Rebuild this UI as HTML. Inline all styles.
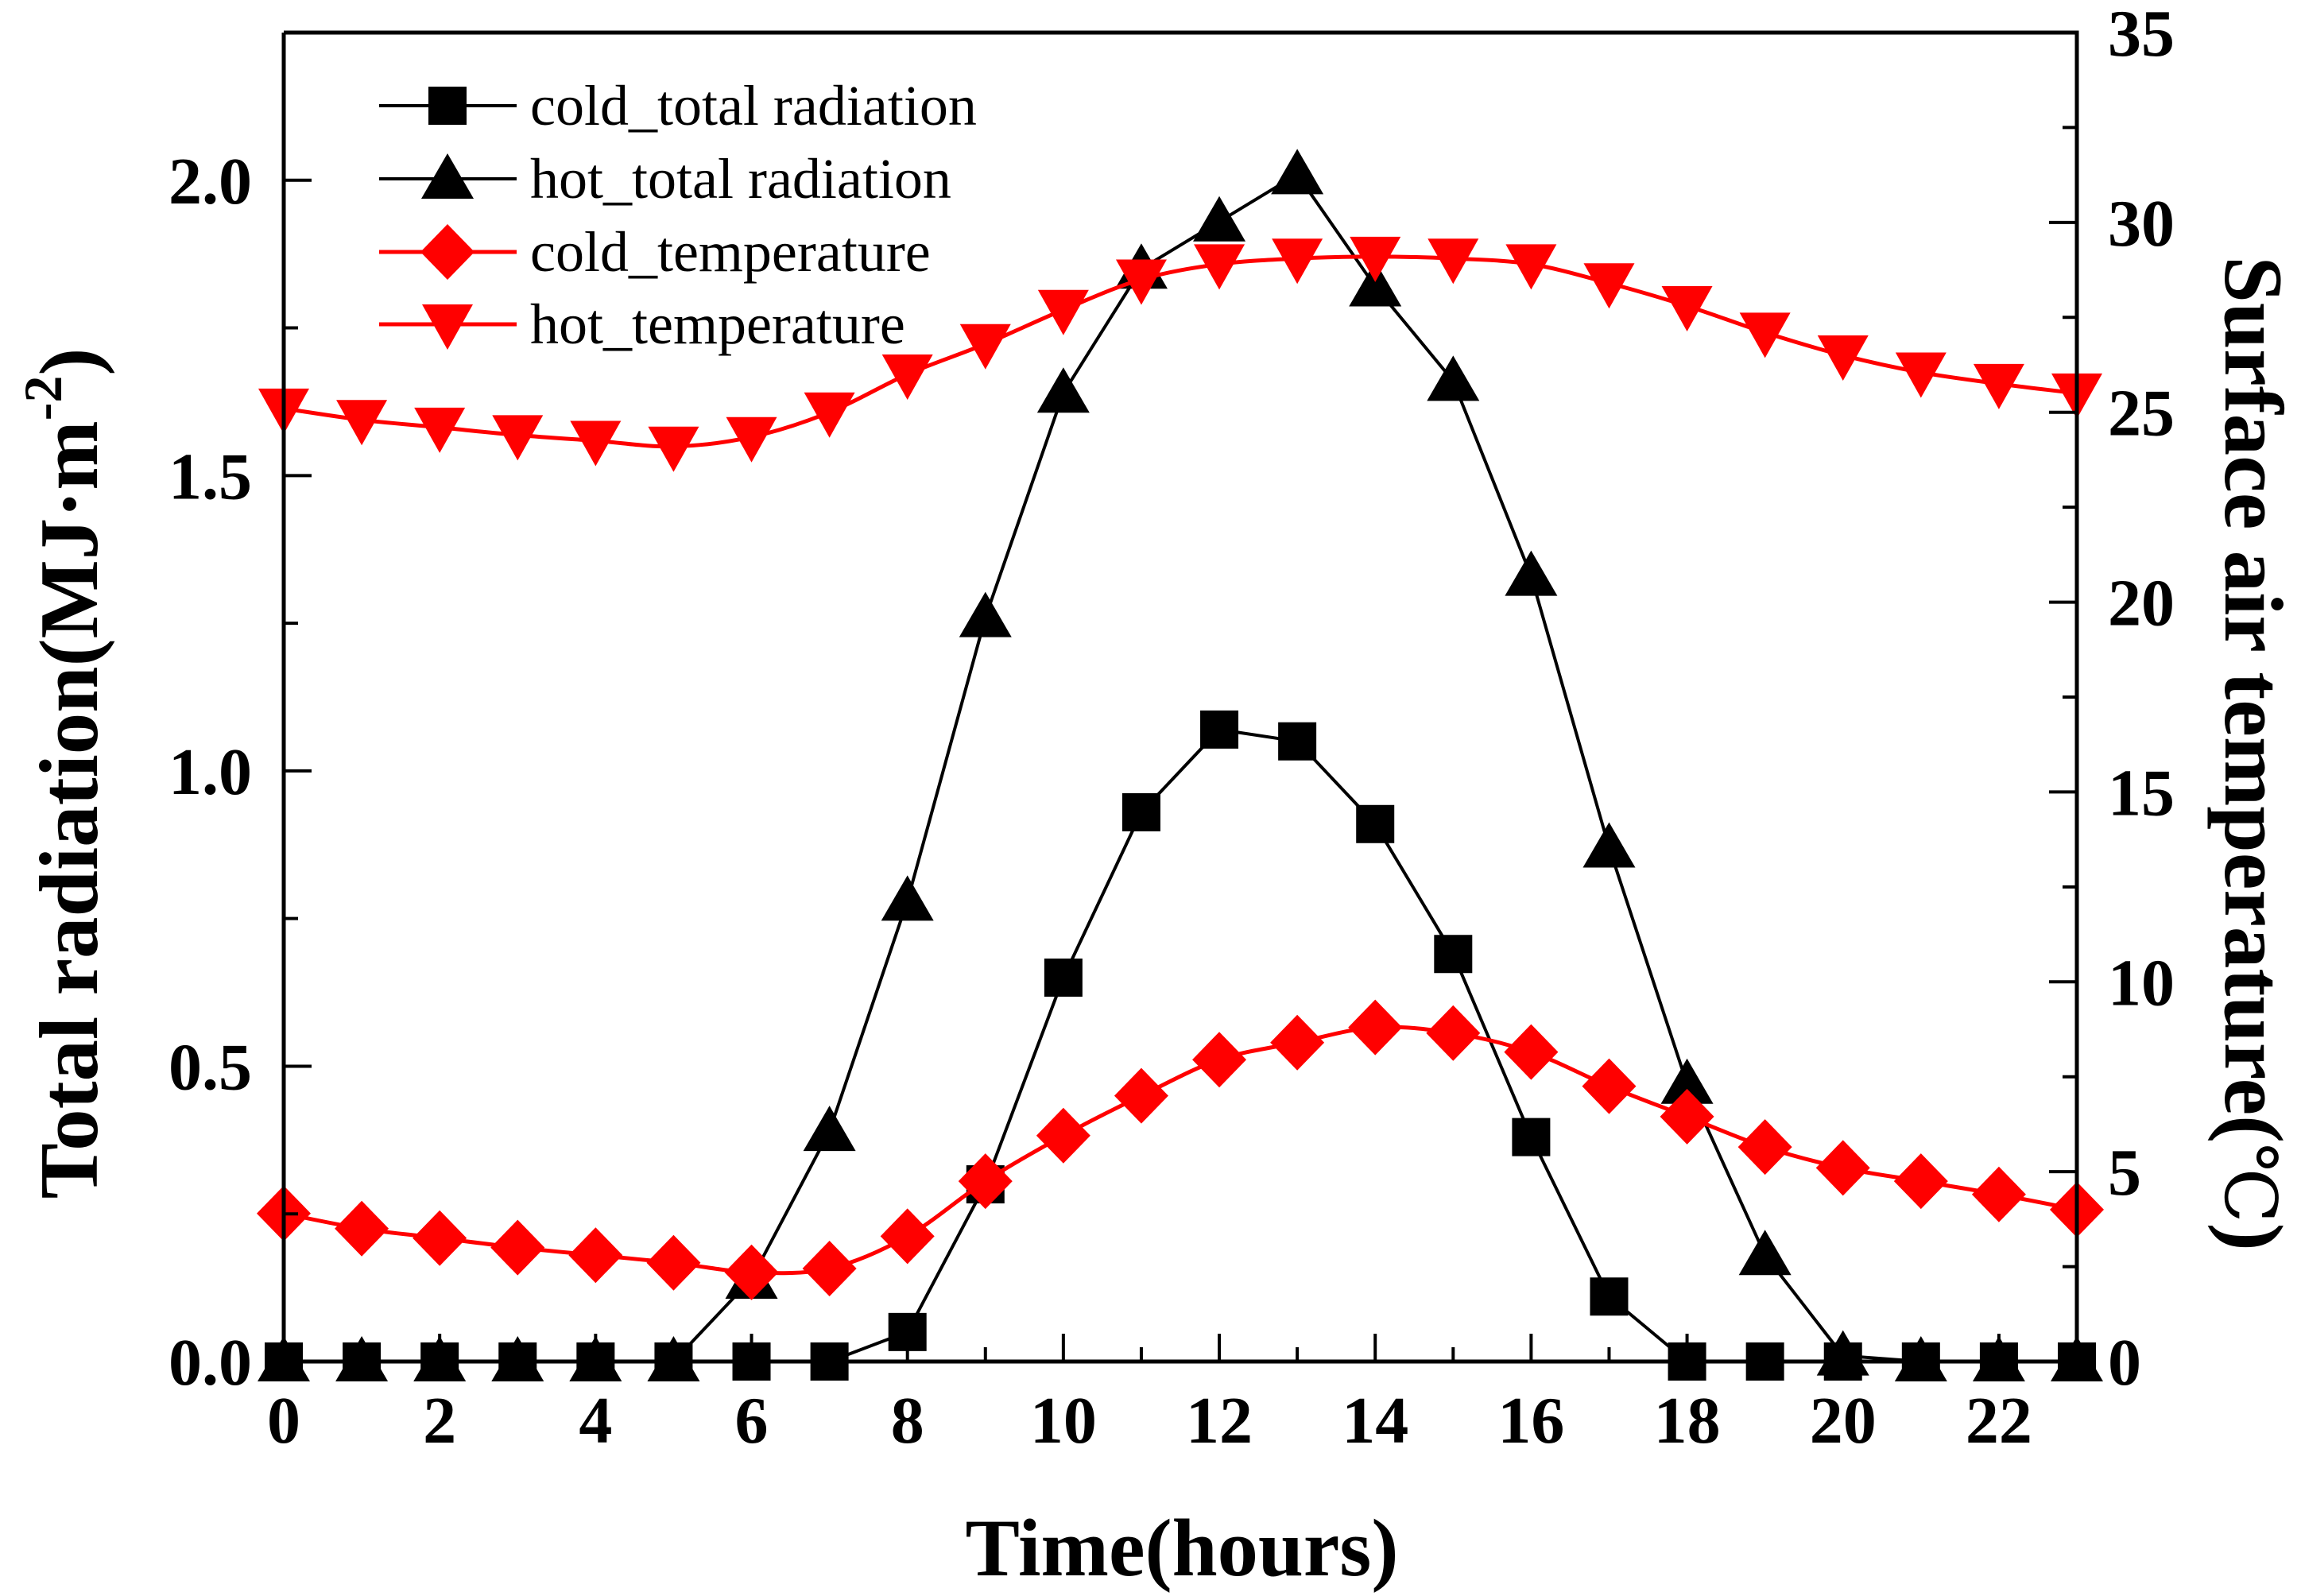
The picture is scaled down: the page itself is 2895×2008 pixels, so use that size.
<!DOCTYPE html>
<html><head><meta charset="utf-8"><style>
html,body{margin:0;padding:0;background:#fff}
svg{display:block}
text{font-family:"Liberation Serif","DejaVu Serif",serif}
</style></head><body>
<svg id="chart" width="2895" height="2008" viewBox="0 0 2895 2008" xmlns="http://www.w3.org/2000/svg">
<g id="marks"></g>
<g id="axes"></g>
<g id="legend"></g>
<text x="1487" y="1982" font-size="103" font-weight="bold" text-anchor="middle" textLength="545" lengthAdjust="spacingAndGlyphs">Time(hours)</text>
<text transform="translate(122,973) rotate(-90)" font-size="105" font-weight="bold" text-anchor="middle">Total radiation(MJ·m<tspan font-size="68" dy="-45">-2</tspan><tspan dy="45">)</tspan></text>
<text transform="translate(2800,948) rotate(90)" font-size="105" font-weight="bold" text-anchor="middle">Surface air temperature(<tspan font-family="DejaVu Serif" font-weight="normal" font-size="90">℃</tspan>)</text>
</svg>
<script>
const hours = [0,1,2,3,4,5,6,7,8,9,10,11,12,13,14,15,16,17,18,19,20,21,22,23];
const coldRadiation = [0,0,0,0,0,0,0,0,0.05,0.30,0.65,0.93,1.07,1.05,0.91,0.69,0.38,0.11,0,0,0,0,0,0];
const hotRadiation = [0,0,0,0,0,0,0.14,0.39,0.78,1.26,1.64,1.85,1.93,2.01,1.82,1.66,1.33,0.87,0.47,0.18,0.01,0,0,0];
const coldTemperature = [3.9,3.5,3.25,3.0,2.8,2.6,2.35,2.45,3.3,4.75,5.95,7.0,7.95,8.4,8.8,8.65,8.15,7.25,6.45,5.65,5.1,4.75,4.4,4.0];
const hotTemperature = [25.1,24.8,24.6,24.4,24.25,24.1,24.35,25.0,26.0,26.8,27.7,28.5,28.9,29.05,29.1,29.05,28.9,28.4,27.8,27.1,26.5,26.05,25.75,25.5];
const xTickLabels = ["0","2","4","6","8","10","12","14","16","18","20","22"];
const leftTickLabels = ["0.0","0.5","1.0","1.5","2.0"];
const rightTickLabels = ["0","5","10","15","20","25","30","35"];

const NS="http://www.w3.org/2000/svg";
const L=357,R=2613,T=41,B=1713;
const X=v=>L+(v-0)/(23-0)*(R-L);
const YL=v=>B-(v/2.25)*(B-T);
const YR=v=>B-(v/35)*(B-T);
function mk(tag,attrs,parent){const e=document.createElementNS(NS,tag);for(const k in attrs)e.setAttribute(k,attrs[k]);parent.appendChild(e);return e;}
const marks=document.getElementById('marks'),axes=document.getElementById('axes'),legend=document.getElementById('legend');

function marker(type,cx,cy,color,parent){
  let e;
  if(type==='square') e=mk('rect',{x:cx-24,y:cy-24,width:48,height:48,fill:color},parent);
  else if(type==='up') e=mk('polygon',{points:`${cx},${cy-32} ${cx+33},${cy+25} ${cx-33},${cy+25}`,fill:color},parent);
  else if(type==='down') e=mk('polygon',{points:`${cx-32},${cy-25} ${cx+32},${cy-25} ${cx},${cy+32}`,fill:color},parent);
  else e=mk('polygon',{points:`${cx},${cy-35} ${cx+34},${cy} ${cx},${cy+35} ${cx-34},${cy}`,fill:color},parent);
  return e;
}
function smoothPath(pts){
  let d='M'+pts[0][0].toFixed(1)+','+pts[0][1].toFixed(1);
  for(let i=0;i<pts.length-1;i++){
    const p0=pts[Math.max(i-1,0)],p1=pts[i],p2=pts[i+1],p3=pts[Math.min(i+2,pts.length-1)];
    const c1x=p1[0]+(p2[0]-p0[0])/6,c1y=p1[1]+(p2[1]-p0[1])/6;
    const c2x=p2[0]-(p3[0]-p1[0])/6,c2y=p2[1]-(p3[1]-p1[1])/6;
    d+=` C${c1x.toFixed(1)},${c1y.toFixed(1)} ${c2x.toFixed(1)},${c2y.toFixed(1)} ${p2[0].toFixed(1)},${p2[1].toFixed(1)}`;
  }
  return d;
}
function series(name,vals,yf,color,type,width,smooth){
  const g=mk('g',{},marks);
  
  
  const pts=hours.map((h,i)=>[X(h),yf(vals[i])]);
  const d=smooth?smoothPath(pts):pts.map((p,i)=>(i?'L':'M')+p[0].toFixed(1)+','+p[1].toFixed(1)).join(' ');
  const p=mk('path',{d:d,fill:'none',stroke:color,'stroke-width':width,'stroke-linejoin':'round'},g);
  
  
  hours.forEach((h,i)=>{
    const m=marker(type,X(h),yf(vals[i]),color,g);
    
    
  });
}
series('hot-total-radiation',hotRadiation,YL,'#000','up',4,false);
series('cold-total-radiation',coldRadiation,YL,'#000','square',4,false);
series('cold-temperature',coldTemperature,YR,'#ff0000','diamond',5,true);
series('hot-temperature',hotTemperature,YR,'#ff0000','down',5,true);

const frame=mk('path',{d:`M${L},${T} L${L},${B} L${R},${B} L${R},${T} L${L},${T}`,fill:'none',stroke:'#000','stroke-width':5},axes);


for(let h=0;h<=23;h++){
  const len=h%2===0?35:18;
  const t=mk('line',{x1:X(h),y1:B,x2:X(h),y2:B-len,stroke:'#000','stroke-width':4},axes);
  
  
}
xTickLabels.forEach(s=>{
  const t=mk('text',{x:X(+s),y:1815,'font-size':84,'font-weight':'bold','text-anchor':'middle'},axes);
  t.textContent=s;
  
  
});
for(let v=0;v<=2.25+1e-9;v+=0.25){
  const len=Math.round(v*100)%50===0?35:18;
  const t=mk('line',{x1:L,y1:YL(v),x2:L+len,y2:YL(v),stroke:'#000','stroke-width':4},axes);
  
  
}
leftTickLabels.forEach(s=>{
  const t=mk('text',{x:317,y:YL(+s)+29,'font-size':84,'font-weight':'bold','text-anchor':'end'},axes);
  t.textContent=s;
  
  
});
for(let v=0;v<=35;v+=2.5){
  const len=v%5===0?35:18;
  const t=mk('line',{x1:R,y1:YR(v),x2:R-len,y2:YR(v),stroke:'#000','stroke-width':4},axes);
  
  
}
rightTickLabels.forEach(s=>{
  const t=mk('text',{x:2652,y:YR(+s)+29,'font-size':84,'font-weight':'bold','text-anchor':'start'},axes);
  t.textContent=s;
  
  
});
const legendNames=['cold_total radiation','hot_total radiation','cold_temperature','hot_temperature'];
const legendColors=['#000','#000','#ff0000','#ff0000'];
const legendTypes=['square','up','diamond','down'];
const legendRows=[133,225,317,408];
legendNames.forEach((n,i)=>{
  const g=mk('g',{},legend);
  
  
  const y=legendRows[i];
  mk('line',{x1:477,y1:y,x2:650,y2:y,stroke:legendColors[i],'stroke-width':i<2?4:5},g);
  marker(legendTypes[i],563,y,legendColors[i],g);
  const t=mk('text',{x:667,y:y+24,'font-size':72},g);
  t.textContent=n;
});
</script>
</body></html>
